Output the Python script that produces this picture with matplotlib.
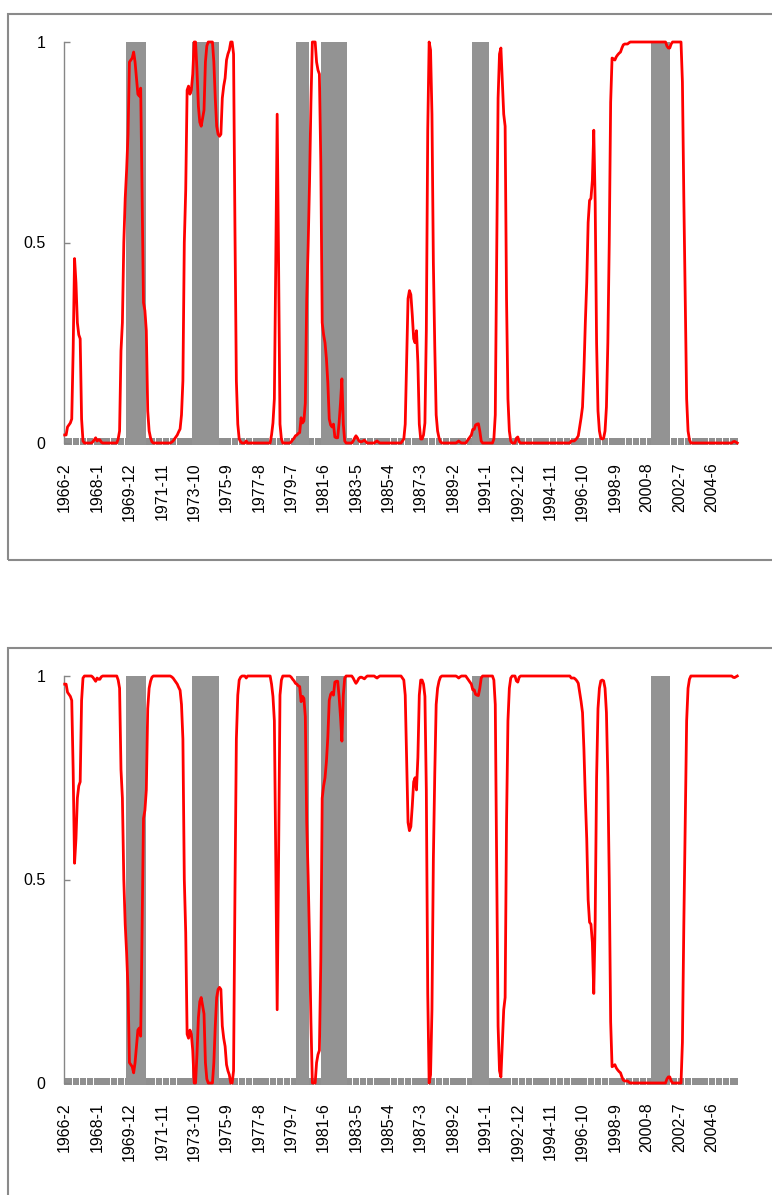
import matplotlib
matplotlib.use('Agg')
import matplotlib.pyplot as plt
from matplotlib.patches import Rectangle
import numpy as np

# ---------------- data ----------------
# monthly categories 1966-2 ... 2005-12
months = []
_y, _m = 1966, 2
while (_y, _m) <= (2005, 12):
    months.append(f"{_y}-{_m}")
    _m += 1
    if _m > 12:
        _m = 1
        _y += 1

tick_labels = ["1966-2", "1968-1", "1969-12", "1971-11", "1973-10", "1975-9",
               "1977-8", "1979-7", "1981-6", "1983-5", "1985-4", "1987-3",
               "1989-2", "1991-1", "1992-12", "1994-11", "1996-10", "1998-9",
               "2000-8", "2002-7", "2004-6"]

# shaded periods (first month, last month)
recessions = [("1969-10", "1970-11"), ("1973-9", "1975-3"), ("1979-11", "1980-7"),
              ("1981-5", "1982-10"), ("1990-4", "1991-3"), ("2000-11", "2001-12")]

# upper panel: regime probability (one value per month)
prob_top = [
    0.02, 0.02, 0.04, 0.045, 0.05, 0.06, 0.23, 0.46, 0.40, 0.30, 0.27, 0.26,
    0.06, 0.005, 0, 0, 0, 0, 0, 0, 0.003, 0.008, 0.013, 0.005,
    0.008, 0.008, 0.002, 0, 0, 0, 0, 0, 0, 0, 0, 0,
    0, 0, 0.01, 0.03, 0.23, 0.30, 0.50, 0.61, 0.68, 0.77, 0.95, 0.955,
    0.96, 0.975, 0.95, 0.91, 0.87, 0.865, 0.885, 0.61, 0.35, 0.33, 0.28, 0.08,
    0.03, 0.013, 0.003, 0, 0, 0, 0, 0, 0, 0, 0, 0,
    0, 0, 0, 0, 0.002, 0.005, 0.01, 0.015, 0.02, 0.028, 0.035, 0.07,
    0.155, 0.50, 0.63, 0.88, 0.89, 0.87, 0.88, 0.92, 1.0, 1.0, 0.93, 0.84,
    0.80, 0.79, 0.81, 0.83, 0.95, 0.99, 1.0, 1.0, 1.0, 1.0, 0.95, 0.86,
    0.79, 0.77, 0.765, 0.77, 0.86, 0.89, 0.91, 0.955, 0.97, 0.98, 1.0, 1.0,
    0.97, 0.53, 0.155, 0.047, 0.01, 0.003, 0, 0, 0, 0.005, 0, 0,
    0, 0, 0, 0, 0, 0, 0, 0, 0, 0, 0, 0,
    0, 0, 0, 0.02, 0.05, 0.11, 0.45, 0.82, 0.45, 0.047, 0.01, 0,
    0, 0, 0, 0, 0, 0.003, 0.008, 0.012, 0.018, 0.02, 0.024, 0.026,
    0.063, 0.05, 0.055, 0.10, 0.36, 0.49, 0.65, 0.85, 1.0, 1.0, 1.0, 0.95,
    0.93, 0.92, 0.70, 0.30, 0.27, 0.25, 0.21, 0.15, 0.06, 0.045, 0.04, 0.047,
    0.015, 0.013, 0.013, 0.05, 0.10, 0.16, 0.047, 0.005, 0, 0, 0, 0,
    0, 0.005, 0.012, 0.018, 0.013, 0.006, 0.003, 0.003, 0.005, 0.007, 0.003, 0,
    0, 0, 0, 0, 0, 0.003, 0.005, 0.002, 0, 0, 0, 0,
    0, 0, 0, 0, 0, 0, 0, 0, 0, 0, 0, 0,
    0.005, 0.01, 0.047, 0.20, 0.36, 0.38, 0.37, 0.32, 0.26, 0.25, 0.28, 0.20,
    0.047, 0.01, 0.01, 0.02, 0.05, 0.28, 0.78, 1.0, 0.98, 0.82, 0.45, 0.24,
    0.07, 0.03, 0.013, 0.003, 0, 0, 0, 0, 0, 0, 0, 0,
    0, 0, 0, 0.002, 0.005, 0.002, 0, 0, 0, 0, 0.005, 0.01,
    0.015, 0.02, 0.034, 0.034, 0.045, 0.047, 0.048, 0.03, 0.005, 0, 0, 0,
    0, 0, 0, 0, 0, 0.01, 0.07, 0.45, 0.86, 0.97, 0.985, 0.905,
    0.82, 0.79, 0.36, 0.11, 0.03, 0.005, 0, 0, 0, 0.012, 0.015, 0.003,
    0, 0, 0, 0, 0, 0, 0, 0, 0, 0, 0, 0,
    0, 0, 0, 0, 0, 0, 0, 0, 0, 0, 0, 0,
    0, 0, 0, 0, 0, 0, 0, 0, 0, 0, 0, 0,
    0.005, 0.005, 0.005, 0.008, 0.012, 0.018, 0.04, 0.063, 0.09, 0.18, 0.30, 0.40,
    0.55, 0.605, 0.61, 0.655, 0.78, 0.60, 0.25, 0.08, 0.03, 0.012, 0.01, 0.012,
    0.03, 0.09, 0.25, 0.50, 0.85, 0.96, 0.958, 0.955, 0.963, 0.968, 0.972, 0.975,
    0.985, 0.993, 0.995, 0.995, 0.995, 0.998, 1, 1, 1, 1, 1, 1,
    1, 1, 1, 1, 1, 1, 1, 1, 1, 1, 1, 1,
    1, 1, 1, 1, 1, 1, 1, 1, 0.99, 0.985, 0.985, 0.995,
    1, 1, 1, 1, 1, 1, 1, 0.90, 0.61, 0.36, 0.11, 0.03,
    0.008, 0, 0, 0, 0, 0, 0, 0, 0, 0, 0, 0,
    0, 0, 0, 0, 0, 0, 0, 0, 0, 0, 0, 0,
    0, 0, 0, 0, 0, 0, 0, 0.003, 0.004, 0.002, 0,
]

# lower panel: regime probability (one value per month)
prob_bottom = [
    0.98, 0.98, 0.96, 0.955, 0.95, 0.94, 0.77, 0.54, 0.60, 0.70, 0.73, 0.74,
    0.94, 0.995, 1, 1, 1, 1, 1, 1, 0.997, 0.992, 0.987, 0.995,
    0.992, 0.992, 0.998, 1, 1, 1, 1, 1, 1, 1, 1, 1,
    1, 1, 0.99, 0.97, 0.77, 0.70, 0.50, 0.39, 0.32, 0.23, 0.05, 0.045,
    0.04, 0.025, 0.05, 0.09, 0.13, 0.135, 0.115, 0.39, 0.65, 0.67, 0.72, 0.92,
    0.97, 0.987, 0.997, 1, 1, 1, 1, 1, 1, 1, 1, 1,
    1, 1, 1, 1, 0.998, 0.995, 0.99, 0.985, 0.98, 0.972, 0.965, 0.93,
    0.845, 0.50, 0.37, 0.12, 0.11, 0.13, 0.12, 0.08, 0, 0, 0.07, 0.16,
    0.20, 0.21, 0.19, 0.17, 0.05, 0.01, 0, 0, 0, 0, 0.05, 0.14,
    0.21, 0.23, 0.235, 0.23, 0.14, 0.11, 0.09, 0.045, 0.03, 0.02, 0, 0,
    0.03, 0.47, 0.845, 0.953, 0.99, 0.997, 1, 1, 1, 0.995, 1, 1,
    1, 1, 1, 1, 1, 1, 1, 1, 1, 1, 1, 1,
    1, 1, 1, 0.98, 0.95, 0.89, 0.55, 0.18, 0.55, 0.953, 0.99, 1,
    1, 1, 1, 1, 1, 0.997, 0.992, 0.988, 0.982, 0.98, 0.976, 0.974,
    0.937, 0.95, 0.945, 0.90, 0.64, 0.51, 0.35, 0.15, 0, 0, 0, 0.05,
    0.07, 0.08, 0.30, 0.70, 0.73, 0.75, 0.79, 0.85, 0.94, 0.955, 0.96, 0.953,
    0.985, 0.987, 0.987, 0.95, 0.90, 0.84, 0.953, 0.995, 1, 1, 1, 1,
    1, 0.995, 0.988, 0.982, 0.987, 0.994, 0.997, 0.997, 0.995, 0.993, 0.997, 1,
    1, 1, 1, 1, 1, 0.997, 0.995, 0.998, 1, 1, 1, 1,
    1, 1, 1, 1, 1, 1, 1, 1, 1, 1, 1, 1,
    0.995, 0.99, 0.953, 0.80, 0.64, 0.62, 0.63, 0.68, 0.74, 0.75, 0.72, 0.80,
    0.953, 0.99, 0.99, 0.98, 0.95, 0.72, 0.22, 0, 0.02, 0.18, 0.55, 0.76,
    0.93, 0.97, 0.987, 0.997, 1, 1, 1, 1, 1, 1, 1, 1,
    1, 1, 1, 0.998, 0.995, 0.998, 1, 1, 1, 1, 0.995, 0.99,
    0.985, 0.98, 0.966, 0.966, 0.955, 0.953, 0.952, 0.97, 0.995, 1, 1, 1,
    1, 1, 1, 1, 1, 0.99, 0.93, 0.55, 0.14, 0.03, 0.015, 0.095,
    0.18, 0.21, 0.64, 0.89, 0.97, 0.995, 1, 1, 1, 0.988, 0.985, 0.997,
    1, 1, 1, 1, 1, 1, 1, 1, 1, 1, 1, 1,
    1, 1, 1, 1, 1, 1, 1, 1, 1, 1, 1, 1,
    1, 1, 1, 1, 1, 1, 1, 1, 1, 1, 1, 1,
    0.995, 0.995, 0.995, 0.992, 0.988, 0.982, 0.96, 0.937, 0.91, 0.82, 0.70, 0.60,
    0.45, 0.395, 0.39, 0.345, 0.22, 0.40, 0.75, 0.92, 0.97, 0.988, 0.99, 0.988,
    0.97, 0.91, 0.75, 0.50, 0.15, 0.04, 0.042, 0.045, 0.037, 0.032, 0.028, 0.025,
    0.015, 0.007, 0.005, 0.005, 0.005, 0.002, 0, 0, 0, 0, 0, 0,
    0, 0, 0, 0, 0, 0, 0, 0, 0, 0, 0, 0,
    0, 0, 0, 0, 0, 0, 0, 0, 0.01, 0.015, 0.015, 0.005,
    0, 0, 0, 0, 0, 0, 0, 0.10, 0.39, 0.64, 0.89, 0.97,
    0.992, 1, 1, 1, 1, 1, 1, 1, 1, 1, 1, 1,
    1, 1, 1, 1, 1, 1, 1, 1, 1, 1, 1, 1,
    1, 1, 1, 1, 1, 1, 1, 0.997, 0.996, 0.998, 1,
]

y_ticks = [0, 0.5, 1]
y_ticklabels = ["0", "0.5", "1"]

# ---------------- drawing ----------------
plt.rcParams['font.family'] = ['Liberation Sans', 'DejaVu Sans']

W, H = 772, 1195
fig = plt.figure(figsize=(W / 100, H / 100), dpi=100)

GRID = '#868686'


def px_rect(x0, y0, x1, y1):
    """figure-fraction rect from pixel coords (top-left origin)"""
    return [x0 / W, 1 - y1 / H, (x1 - x0) / W, (y1 - y0) / H]


def panel_box(x0, y0, x1, y1):
    l, b, w, h = px_rect(x0, y0, x1, y1)
    fig.patches.append(Rectangle((l, b), w, h, transform=fig.transFigure,
                                 fill=False, edgecolor='#8a8a8a', lw=1.5,
                                 clip_on=False))


panel_box(7.5, 13.5, 800, 560)
panel_box(7.5, 648, 800, 1260)

idx = np.arange(len(months))
rec = np.zeros(len(months), dtype=bool)
for a, b in recessions:
    rec[months.index(a):months.index(b) + 1] = True
tick_pos = [months.index(t) for t in tick_labels]


def draw(rect, series):
    ax = fig.add_axes(rect)
    ax.bar(idx[~rec], 0.018, bottom=-0.005, width=0.9, color='#8f8f8f',
           linewidth=0, clip_on=False, zorder=1)
    ax.bar(idx[rec], 1.005, bottom=-0.005, width=1.0, color='#939393',
           linewidth=0, clip_on=False, zorder=1)
    ax.plot(idx, series, color='#ff0000', lw=2.0, zorder=3, clip_on=False,
            solid_joinstyle='round')
    ax.set_xlim(-0.5, len(months) - 0.5)
    ax.set_ylim(0, 1)
    for s in ['top', 'right', 'bottom']:
        ax.spines[s].set_visible(False)
    ax.spines['left'].set_color(GRID)
    ax.spines['left'].set_linewidth(1.0)
    ax.set_yticks(y_ticks)
    ax.set_yticklabels(y_ticklabels)
    ax.tick_params(axis='y', direction='in', length=4.5, width=1.0,
                   color=GRID, pad=13.5, labelsize=11.5, labelcolor='black')
    ax.set_xticks(tick_pos)
    ax.set_xticklabels(tick_labels, rotation=90)
    ax.tick_params(axis='x', length=0, pad=14, labelsize=11.5,
                   labelcolor='black')
    ax.set_facecolor('none')
    return ax


draw(px_rect(64, 42, 738, 443), prob_top)
draw(px_rect(64, 676, 738, 1083), prob_bottom)

fig.savefig('out.png', dpi=100)
